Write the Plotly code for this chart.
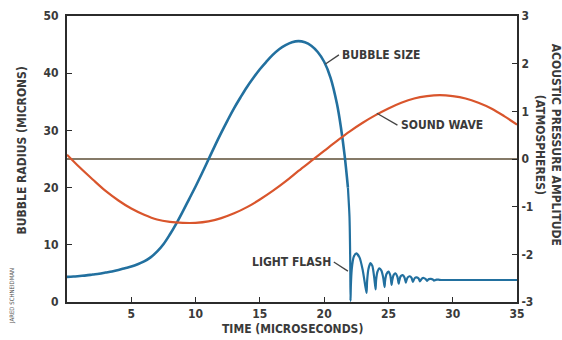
import plotly.graph_objects as go

# Sound wave: acoustic pressure amplitude (atmospheres) vs time (microseconds)
wave_t = list(range(0, 36))
wave_p = [0.09, -0.18, -0.43, -0.67, -0.87, -1.04, -1.17, -1.27, -1.32, -1.34,
          -1.34, -1.31, -1.24, -1.14, -1.01, -0.85, -0.67, -0.47, -0.25, -0.04,
          0.17, 0.38, 0.58, 0.76, 0.92, 1.06, 1.18, 1.27, 1.32, 1.34,
          1.32, 1.27, 1.18, 1.06, 0.90, 0.72]

# Bubble radius (microns) vs time (microseconds): growth and collapse
growth_t = [0, 0.5, 1, 1.5, 2, 2.5, 3, 3.5, 4, 4.5, 5, 5.5, 6, 6.5, 7, 7.5, 8,
            8.5, 9, 9.5, 10, 10.5, 11, 11.5, 12, 12.5, 13, 13.5, 14, 14.5, 15,
            15.5, 16, 16.5, 17, 17.5, 18, 18.5, 19, 19.5, 20, 20.5, 21, 21.3,
            21.6, 21.85]
growth_r = [4.4, 4.45, 4.55, 4.65, 4.8, 4.95, 5.15, 5.35, 5.6, 5.9, 6.2, 6.6,
            7.1, 7.8, 8.8, 10.1, 11.8, 13.7, 15.8, 18.0, 20.2, 22.5, 24.9,
            27.3, 29.6, 31.8, 33.9, 35.8, 37.6, 39.2, 40.7, 42.0, 43.2, 44.2,
            44.9, 45.4, 45.6, 45.4, 44.8, 43.7, 42.0, 39.2, 34.6, 30.6, 25.5,
            20.0]

# Bubble radius: final collapse and after-bounces
bounce_t = [21.85, 21.97, 22.03, 22.05,
            22.08, 22.15, 22.3, 22.5, 22.75, 23.0, 23.2, 23.3,
            23.34, 23.45, 23.6, 23.75, 23.9, 24.0,
            24.04, 24.15, 24.3, 24.45, 24.6, 24.7,
            24.74, 24.85, 25.0, 25.15, 25.25,
            25.29, 25.4, 25.55, 25.7, 25.8,
            25.84, 25.95, 26.1, 26.25, 26.35,
            26.39, 26.5, 26.65, 26.8, 26.9,
            26.94, 27.05, 27.2, 27.35, 27.45,
            27.49, 27.6, 27.75, 27.9, 28.0,
            28.04, 28.15, 28.3, 28.45, 28.55,
            28.6, 28.75, 28.9, 29.1, 30, 35]
bounce_r = [20.0, 15.0, 7.0, 0.2,
            3.0, 5.8, 7.9, 8.5, 7.8, 5.6, 2.8, 1.6,
            3.6, 5.8, 6.8, 6.3, 4.2, 2.2,
            3.8, 5.3, 5.9, 5.5, 4.2, 2.6,
            3.7, 4.9, 5.3, 4.6, 3.0,
            3.7, 4.7, 5.0, 4.4, 3.2,
            3.7, 4.5, 4.7, 4.3, 3.4,
            3.7, 4.3, 4.5, 4.2, 3.5,
            3.7, 4.2, 4.3, 4.1, 3.6,
            3.75, 4.1, 4.2, 4.0, 3.7,
            3.8, 4.0, 4.05, 3.95, 3.75,
            3.8, 3.92, 3.9, 3.85, 3.85, 3.85]

x_ticks = [5, 10, 15, 20, 25, 30, 35]
y_ticks = [0, 10, 20, 30, 40, 50]
y2_ticks = [-3, -2, -1, 0, 1, 2, 3]

FONT = "Liberation Sans Narrow, DejaVu Sans Condensed, Arial Narrow, Liberation Sans, sans-serif"
TXT = "#3a3a3a"
AX = "#2b2b2b"
BLUE = "#22709f"

fig = go.Figure()
fig.add_trace(go.Scatter(x=wave_t, y=wave_p, yaxis="y2", mode="lines",
                         line=dict(color="#d9552c", width=2.2, shape="spline"),
                         hoverinfo="skip", showlegend=False))
fig.add_trace(go.Scatter(x=growth_t, y=growth_r, mode="lines",
                         line=dict(color=BLUE, width=2.6, shape="spline", smoothing=1.0),
                         hoverinfo="skip", showlegend=False))
fig.add_trace(go.Scatter(x=bounce_t, y=bounce_r, mode="lines",
                         line=dict(color=BLUE, width=2.2, shape="spline", smoothing=0.6),
                         hoverinfo="skip", showlegend=False))

tick_font = dict(family=FONT, size=12, color=TXT, weight="bold")

fig.update_layout(
    width=562, height=340,
    margin=dict(l=67, r=45, t=16, b=38, autoexpand=False),
    paper_bgcolor="white", plot_bgcolor="white",
    showlegend=False,
    xaxis=dict(range=[0, 35], tickvals=x_ticks, ticks="inside", ticklen=5,
               tickcolor=AX, showgrid=False, zeroline=False, showline=True,
               linecolor=AX, linewidth=2, mirror=True, tickfont=tick_font,
               fixedrange=True),
    yaxis=dict(range=[0, 50], tickvals=y_ticks, ticks="inside", ticklen=5,
               tickcolor=AX, showgrid=False, zeroline=False, showline=True,
               linecolor=AX, linewidth=2, tickfont=tick_font, ticklabelstandoff=4),
    yaxis2=dict(range=[-3, 3], tickvals=y2_ticks, ticktext=[str(v) for v in y2_ticks],
                overlaying="y", side="right", ticks="inside", ticklen=5,
                tickcolor=AX, showgrid=False, zeroline=False, showline=True,
                linecolor=AX, linewidth=2, tickfont=tick_font),
)

# zero pressure reference line
fig.add_shape(type="line", xref="x", yref="y2", x0=0, x1=35, y0=0, y1=0,
              line=dict(color="#857a68", width=2), layer="below")

# leader lines
lead = dict(color="#444444", width=1.3)
fig.add_shape(type="line", xref="x", yref="y", x0=20.1, y0=41.6, x1=21.15, y1=43.2, line=lead)
fig.add_shape(type="line", xref="x", yref="y2", x0=24.1, y0=0.96, x1=25.7, y1=0.71, line=lead)
fig.add_shape(type="line", xref="x", yref="y", x0=20.75, y0=7.0, x1=21.85, y1=5.4, line=lead)

lab_font = dict(family=FONT, size=12, color=TXT, weight="bold")
fig.add_annotation(x=21.2, y=43.2, xref="x", yref="y", text="BUBBLE SIZE",
                   showarrow=False, xanchor="left", yanchor="middle", font=lab_font)
fig.add_annotation(x=25.8, y=0.71, xref="x", yref="y2", text="SOUND WAVE",
                   showarrow=False, xanchor="left", yanchor="middle", font=lab_font)
fig.add_annotation(x=20.7, y=7.0, xref="x", yref="y", text="LIGHT FLASH",
                   showarrow=False, xanchor="right", yanchor="middle", font=lab_font)

# axis titles
fig.add_annotation(x=0.5, y=0, xref="paper", yref="paper", yshift=-27,
                   text="TIME (MICROSECONDS)", showarrow=False, yanchor="middle",
                   font=dict(family=FONT, size=12, color=TXT, weight="bold"))
fig.add_annotation(x=0, y=0.53, xref="paper", yref="paper", xshift=-45,
                   text="BUBBLE RADIUS (MICRONS)", showarrow=False, textangle=-90,
                   xanchor="center", yanchor="middle",
                   font=dict(family=FONT, size=12, color=TXT, weight="bold"))
fig.add_annotation(x=1, y=0.55, xref="paper", yref="paper", xshift=31,
                   text="ACOUSTIC PRESSURE AMPLITUDE<br>(ATMOSPHERES)", showarrow=False,
                   textangle=90, xanchor="center", yanchor="middle",
                   font=dict(family=FONT, size=12, color=TXT, weight="bold"))
fig.add_annotation(x=0, y=0, xref="paper", yref="paper", xshift=-55, yshift=6,
                   text="JARED SCHNEIDMAN", showarrow=False, textangle=-90,
                   xanchor="center", yanchor="middle",
                   font=dict(family=FONT, size=6, color="#555555"))

fig.write_html("out.html", config={"displayModeBar": False},
               post_script="document.body.style.margin='0';document.body.style.padding='0';")
